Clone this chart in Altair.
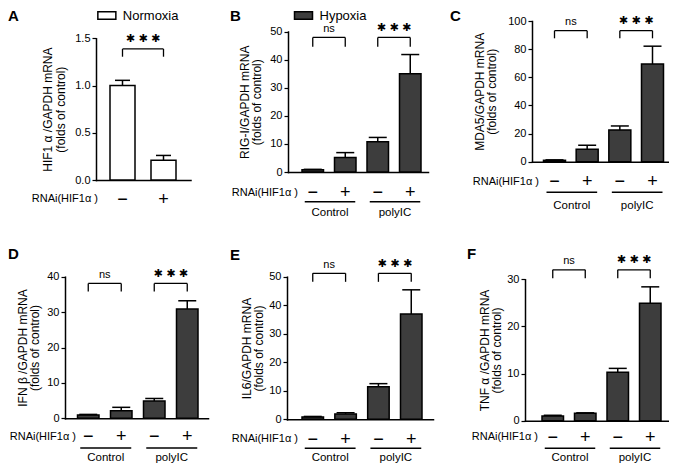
import altair as alt
import pandas as pd

FONT = "Liberation Sans, Noto Sans CJK JP, sans-serif"
STAR_FONT = "DejaVu Sans"
DARK = "#3d3d3d"
OFF = 8          # page margin -> plot coordinates
W, H = 661, 455

# ---------------- data ----------------
cats_A = ["−", "+"]
cats_4 = ["Control −", "Control +", "polyIC −", "polyIC +"]
groups = ["Control", "polyIC"]
rnai_label = "RNAi(HIF1α )"
legend_A = "Normoxia"
legend_B = "Hypoxia"

A_means = [1.00, 0.21]
A_err = [0.055, 0.05]
B_means = [0.8, 5.2, 10.8, 35.0]
B_err = [0.15, 1.7, 1.5, 6.8]
C_means = [1.0, 8.9, 22.6, 69.4]
C_err = [0.3, 2.8, 2.8, 12.7]
D_means = [0.95, 2.1, 4.9, 30.9]
D_err = [0.15, 1.0, 0.7, 2.3]
E_means = [0.85, 1.9, 11.4, 36.9]
E_err = [0.15, 0.4, 1.1, 8.5]
F_means = [1.0, 1.57, 10.3, 24.9]
F_err = [0.15, 0.1, 0.8, 3.5]

A_title = ["HIF1 α /GAPDH mRNA", "(folds of control)"]
B_title = ["RIG-I/GAPDH mRNA", "(folds of control)"]
C_title = ["MDA5/GAPDH mRNA", "(folds of control)"]
D_title = ["IFN β /GAPDH mRNA", "(folds of control)"]
E_title = ["IL6/GAPDH mRNA", "(folds of control)"]
F_title = ["TNF α /GAPDH mRNA", "(folds of control)"]

A_ticks = [0, 0.5, 1.0, 1.5]
B_ticks = [0, 10, 20, 30, 40, 50]
C_ticks = [0, 20, 40, 60, 80, 100]
D_ticks = [0, 10, 20, 30, 40]
E_ticks = [0, 10, 20, 30, 40, 50]
F_ticks = [0, 10, 20, 30]

# significance brackets (value units)
A_br = dict(left=["−"], right=["+"], top=[1.387], bottom=[1.305], label=["***"])
B_br = dict(left=["Control −", "polyIC −"], right=["Control +", "polyIC +"],
            top=[47.9, 47.9], bottom=[44.6, 44.6], label=["ns", "***"])
C_br = dict(left=["Control −", "polyIC −"], right=["Control +", "polyIC +"],
            top=[93.1, 93.1], bottom=[87.7, 87.7], label=["ns", "***"])
D_br = dict(left=["Control −", "polyIC −"], right=["Control +", "polyIC +"],
            top=[38.1, 38.1], bottom=[35.8, 35.8], label=["ns", "***"])
E_br = dict(left=["Control −", "polyIC −"], right=["Control +", "polyIC +"],
            top=[51.2, 51.2], bottom=[48.2, 48.2], label=["ns", "***"])
F_br = dict(left=["Control −", "polyIC −"], right=["Control +", "polyIC +"],
            top=[32.0, 32.0], bottom=[30.2, 30.2], label=["ns", "***"])

# ---------------- layout (page pixels) ----------------
LAY = {
    "A": dict(x0=96, x1=190.5, first=110, last=176, bw=25, y0=180, ytop=38.3, ymax=1.5, fmt=".1f",
              tcx=47.5, lpad=19.5, rx=98, ry=199.3, lx=8, ly=16, cap=15, uy=None, gy=None),
    "B": dict(x0=288, x1=428, first=302, last=421, bw=21.5, y0=172, ytop=31.5, ymax=50, fmt="d",
              tcx=244, lpad=20.5, rx=298, ry=192.7, lx=230, ly=16, cap=18, uy=201.7, gy=213.3),
    "C": dict(x0=532, x1=668, first=543.5, last=663.5, bw=22, y0=161.7, ytop=21, ymax=100, fmt="d",
              tcx=479, lpad=20, rx=539, ry=181.7, lx=450, ly=16, cap=18, uy=192.3, gy=205.7),
    "D": dict(x0=65, x1=208, first=77.5, last=198, bw=21.5, y0=418.3, ytop=276.7, ymax=40, fmt="d",
              tcx=22, lpad=18.5, rx=76, ry=436.7, lx=8, ly=254, cap=18, uy=448, gy=458),
    "E": dict(x0=287, x1=433, first=302, last=422, bw=21.5, y0=419.3, ytop=276.7, ymax=50, fmt="d",
              tcx=246, lpad=19.7, rx=298, ry=439, lx=230, ly=255, cap=18, uy=448.3, gy=458),
    "F": dict(x0=525, x1=668, first=542, last=661, bw=21.5, y0=420.7, ytop=279.3, ymax=30, fmt="d",
              tcx=484.4, lpad=16.6, rx=538, ry=437.3, lx=467, ly=254, cap=18, uy=448.3, gy=458),
}


def band_params(r0, r1, first_left, last_right, n, bw):
    step = (last_right - first_left - bw) / (n - 1)
    pin = 1 - bw / step
    width = r1 - r0
    pout = (width / step - (n - pin)) / 2
    leftover = width - step * (n - pin)
    align = (first_left - r0) / leftover
    return pin, pout, align, step


def panel(letter, cats, means, errs, ytitle, ticks, br, fill_color, legend_label=None):
    L = LAY[letter]
    pin, pout, align, step = band_params(L["x0"], L["x1"], L["first"], L["last"], len(cats), L["bw"])
    xs = alt.Scale(domain=cats, range=[L["x0"] - OFF, L["x1"] - OFF],
                   paddingInner=pin, paddingOuter=pout, align=align)
    ys = alt.Scale(domain=[0, L["ymax"]], range=[L["y0"] - OFF, L["ytop"] - OFF], nice=False, zero=True)

    df = pd.DataFrame({"cat": cats, "mean": means, "hi": [m + e for m, e in zip(means, errs)]})

    xaxis = alt.Axis(orient="bottom", offset=(L["y0"] - OFF) - H, title=None, ticks=False, tickSize=0,
                     labelPadding=L["lpad"], labelBaseline="middle", labelFontSize=18, labelAngle=0,
                     labelExpr="slice(datum.label, -1)", domainCap="square")
    yaxis = alt.Axis(orient="left", offset=-(L["x0"] - OFF), title=ytitle, values=ticks, format=L["fmt"],
                     titleX=L["tcx"] - L["x0"], titleY=(L["y0"] + L["ytop"]) / 2 - OFF,
                     titleBaseline="middle", titleAngle=270, titleLineHeight=12.5, domainCap="square")

    if legend_label is not None:
        df["condition"] = legend_label
        lcx = {"A": 105.85, "B": 302.5}[letter] - OFF
        fill = alt.Fill("condition:N", scale=alt.Scale(domain=[legend_label], range=[fill_color]),
                        legend=alt.Legend(orient="none", legendX=lcx - 9, legendY=6.5 - 9, title=None,
                                          symbolType="M-1,-0.43H1V0.43H-1Z", symbolSize=324,
                                          symbolStrokeColor="black", symbolStrokeWidth=1.5,
                                          labelFont=FONT, labelFontSize=13, labelColor="black",
                                          labelOffset=6, padding=0))
    else:
        fill = alt.value(fill_color)

    bars = alt.Chart(df).mark_bar(stroke="black", strokeWidth=1.5).encode(
        x=alt.X("cat:N", scale=xs, axis=xaxis),
        y=alt.Y("mean:Q", scale=ys, axis=yaxis),
        fill=fill,
    )
    err = alt.Chart(df).mark_rule(color="black", strokeWidth=1.5).encode(
        x=alt.X("cat:N", scale=xs),
        y=alt.Y("mean:Q", scale=ys),
        y2="hi:Q",
    )
    cap = alt.Chart(df).mark_tick(color="black", thickness=1.5, size=L["cap"], opacity=1).encode(
        x=alt.X("cat:N", scale=xs),
        y=alt.Y("hi:Q", scale=ys),
    )

    bdf = pd.DataFrame(br)
    hline = alt.Chart(bdf).mark_rule(color="black", strokeWidth=1.3).encode(
        x=alt.X("left:N", scale=xs), x2="right:N",
        y=alt.Y("top:Q", scale=ys),
    )
    vl = alt.Chart(bdf).mark_rule(color="black", strokeWidth=1.3).encode(
        x=alt.X("left:N", scale=xs),
        y=alt.Y("top:Q", scale=ys), y2="bottom:Q",
    )
    vr = alt.Chart(bdf).mark_rule(color="black", strokeWidth=1.3).encode(
        x=alt.X("right:N", scale=xs),
        y=alt.Y("top:Q", scale=ys), y2="bottom:Q",
    )
    ns_df = bdf[bdf["label"] == "ns"]
    st_df = bdf[bdf["label"] == "***"]
    layers = [bars, err, cap, hline, vl, vr]
    if len(ns_df):
        layers.append(alt.Chart(ns_df).mark_text(font=FONT, fontSize=11, color="black", dy=-8.5,
                                                 xOffset=step / 2, baseline="middle").encode(
            x=alt.X("left:N", scale=xs), y=alt.Y("top:Q", scale=ys), text="label:N"))
    layers.append(alt.Chart(st_df).mark_text(font=STAR_FONT, fontSize=11, color="black", dy=-9.5,
                                             xOffset=step / 2, baseline="middle").encode(
        x=alt.X("left:N", scale=xs), y=alt.Y("top:Q", scale=ys),
        text=alt.value("✱ ✱ ✱")))

    if L["uy"] is not None:
        gdf = pd.DataFrame({"group": groups, "first": [cats[0], cats[2]], "second": [cats[1], cats[3]]})
        layers.append(alt.Chart(gdf).mark_rule(color="black", strokeWidth=1.5, xOffset=-8, x2Offset=10).encode(
            x=alt.X("first:N", scale=xs), x2="second:N", y=alt.value(L["uy"] - OFF)))
        layers.append(alt.Chart(gdf).mark_text(font=FONT, fontSize=11.5, color="black", baseline="middle",
                                               xOffset=step / 2 + 1).encode(
            x=alt.X("first:N", scale=xs), y=alt.value(L["gy"] - OFF), text="group:N"))

    rdf = pd.DataFrame({"t": [rnai_label]})
    layers.append(alt.Chart(rdf).mark_text(font=FONT, fontSize=11, color="black", align="right",
                                           baseline="middle").encode(
        x=alt.value(L["rx"] - OFF), y=alt.value(L["ry"] - OFF), text="t:N"))
    ldf = pd.DataFrame({"t": [letter]})
    layers.append(alt.Chart(ldf).mark_text(font=FONT, fontSize=15, fontWeight="bold", color="black",
                                           align="left", baseline="middle").encode(
        x=alt.value(L["lx"] - OFF), y=alt.value(L["ly"] - OFF), text="t:N"))
    return alt.layer(*layers)


pA = panel("A", cats_A, A_means, A_err, A_title, A_ticks, A_br, "white", legend_A)
pB = panel("B", cats_4, B_means, B_err, B_title, B_ticks, B_br, DARK, legend_B)
pC = panel("C", cats_4, C_means, C_err, C_title, C_ticks, C_br, DARK)
pD = panel("D", cats_4, D_means, D_err, D_title, D_ticks, D_br, DARK)
pE = panel("E", cats_4, E_means, E_err, E_title, E_ticks, E_br, DARK)
pF = panel("F", cats_4, F_means, F_err, F_title, F_ticks, F_br, DARK)

chart = (
    alt.layer(pA, pB, pC, pD, pE, pF)
    .resolve_scale(x="independent", y="independent", fill="independent")
    .resolve_axis(x="independent", y="independent")
    .resolve_legend(fill="independent")
    .properties(width=W, height=H, padding=0, autosize=alt.AutoSizeParams(type="none"))
    .configure_view(stroke=None)
    .configure_axis(labelFont=FONT, labelFontSize=11, labelColor="black", titleFont=FONT,
                    titleFontSize=12, titleFontWeight="normal", titleColor="black",
                    domainColor="black", domainWidth=1.5, tickColor="black", tickWidth=1.2,
                    tickSize=4, labelPadding=2, grid=False)
)

chart.save("out.html", embed_options={"renderer": "svg", "actions": False})
